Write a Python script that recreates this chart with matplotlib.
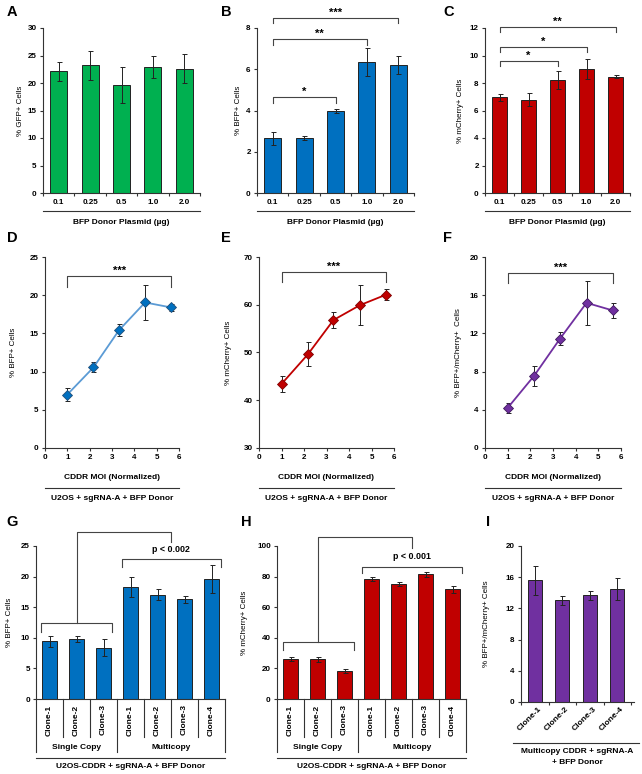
import numpy as np
import matplotlib
matplotlib.use('Agg')
import matplotlib.pyplot as plt

plt.rcParams['font.family'] = ['Liberation Sans', 'DejaVu Sans']
plt.rcParams['font.weight'] = 'bold'

W, H = 642, 774

# ---- data ----
dose_labels = ['0.1', '0.25', '0.5', '1.0', '2.0']
gfp_mean = [22.1, 23.2, 19.6, 23.0, 22.6]
gfp_err = [1.8, 2.7, 3.3, 2.0, 2.6]
bfp_mean = [2.65, 2.68, 3.97, 6.35, 6.2]
bfp_err = [0.32, 0.1, 0.08, 0.68, 0.45]
mch_mean = [6.95, 6.8, 8.25, 9.0, 8.45]
mch_err = [0.27, 0.5, 0.65, 0.72, 0.12]

moi = [1.0, 2.17, 3.31, 4.48, 5.64]
moi_bfp = [7.0, 10.55, 15.4, 19.05, 18.4]
moi_bfp_err = [0.8, 0.65, 0.8, 2.35, 0.43]
moi_mch = [43.4, 49.6, 56.8, 59.9, 62.1]
moi_mch_err = [1.75, 2.5, 1.75, 4.2, 1.2]
moi_dbl = [4.2, 7.57, 11.45, 15.2, 14.4]
moi_dbl_err = [0.52, 1.05, 0.65, 2.3, 0.75]

clone_labels = ['Clone-1', 'Clone-2', 'Clone-3', 'Clone-1', 'Clone-2', 'Clone-3', 'Clone-4']
group_labels = ['Single Copy', 'Multicopy']
clone_bfp = [9.4, 9.84, 8.37, 18.3, 17.07, 16.3, 19.6]
clone_bfp_err = [0.9, 0.45, 1.4, 1.6, 0.95, 0.6, 2.3]
clone_mch = [26.1, 26.0, 18.3, 78.2, 75.2, 81.5, 71.7]
clone_mch_err = [1.1, 1.7, 1.6, 1.4, 1.1, 1.6, 2.2]
mc_labels = ['Clone-1', 'Clone-2', 'Clone-3', 'Clone-4']
mc_dbl = [15.6, 13.03, 13.68, 14.5]
mc_dbl_err = [1.88, 0.6, 0.55, 1.45]

# significance brackets: (x0, x1, y_top, y_tick, label)
sig_b = [(0, 2, 4.65, 4.36, '*'), (0, 3, 7.47, 7.17, '**'), (0, 4, 8.47, 8.23, '***')]
sig_c = [(0, 2, 9.6, 9.24, '*'), (0, 3, 10.6, 10.25, '*'), (0, 4, 12.07, 11.7, '**')]

GREEN = '#00B050'
BLUE = '#0070C0'
RED = '#C00000'
PURPLE = '#7030A0'
EDGE = '#222222'
BRK = '#444444'

TICK_FS = 5.8
LAB_FS = 6.0

fig = plt.figure(figsize=(W / 100, H / 100), dpi=100)


def px_axes(left, top, right, bottom):
    return fig.add_axes([left / W, 1 - bottom / H, (right - left) / W, (bottom - top) / H])


def style(ax):
    for s in ['top', 'right']:
        ax.spines[s].set_visible(False)
    for s in ['left', 'bottom']:
        ax.spines[s].set_linewidth(0.8)
        ax.spines[s].set_color('#333333')
    ax.tick_params(labelsize=TICK_FS, width=0.8, length=2.5, direction='out', color='#333333', pad=2)


def ylab(ax, text, xc, rect):
    left, top, right, bottom = rect
    ax.set_ylabel(text, fontsize=5.8, fontweight='normal')
    ax.yaxis.set_label_coords((xc + 3.5 - left) / (right - left), 0.5)


def hline(ax, y, x0=0, x1=1):
    ax.plot([x0, x1], [y, y], transform=ax.transAxes, clip_on=False, color='#333333', lw=0.8)


def bracket(ax, x0, x1, ytop, ytick, label=None, fs=8):
    ax.plot([x0, x0, x1, x1], [ytick, ytop, ytop, ytick], color=BRK, lw=0.8, clip_on=False)
    if label:
        ax.text((x0 + x1) / 2, ytop, label, ha='center', va='bottom', fontsize=fs, clip_on=False)


def bar_panel(rect, means, errs, color, ymax, ystep, ylabel, ylx, sig=None):
    ax = px_axes(*rect)
    style(ax)
    x = np.arange(len(means))
    ax.bar(x, means, width=0.54, color=color, edgecolor=EDGE, linewidth=0.7, zorder=2)
    ax.errorbar(x, means, yerr=errs, fmt='none', ecolor=EDGE, elinewidth=0.7,
                capsize=1.8, capthick=0.7, zorder=3)
    ax.set_xlim(-0.5, len(means) - 0.5)
    ax.set_ylim(0, ymax)
    ax.set_yticks(np.arange(0, ymax + 0.01, ystep))
    ax.set_xticks(x, dose_labels)
    ax.set_xticks(np.arange(-0.5, len(means)), minor=True)
    ax.tick_params(axis='x', which='major', length=0, pad=4)
    ax.tick_params(axis='x', which='minor', length=2.5, width=0.8, color='#333333')
    ylab(ax, ylabel, ylx, rect)
    hline(ax, -0.109)
    ax.text(0.5, -0.176, 'BFP Donor Plasmid (\u00b5g)', transform=ax.transAxes,
            ha='center', va='center', fontsize=LAB_FS)
    if sig:
        for x0, x1, yt, yk, lab in sig:
            bracket(ax, x0, x1, yt, yk, lab)
    return ax


def line_panel(rect, ys, errs, lcolor, mcolor, medge, ylo, yhi, ystep, ylabel, ylx, sig):
    ax = px_axes(*rect)
    style(ax)
    ax.errorbar(moi, ys, yerr=errs, fmt='none', ecolor=EDGE, elinewidth=0.7,
                capsize=1.8, capthick=0.7, zorder=2)
    ax.plot(moi, ys, color=lcolor, lw=1.3, marker='D', markersize=4.8,
            markerfacecolor=mcolor, markeredgecolor=medge, markeredgewidth=0.6, zorder=3)
    ax.set_xlim(0, 6)
    ax.set_ylim(ylo, yhi)
    ax.set_xticks(range(0, 7))
    ax.set_yticks(np.arange(ylo, yhi + 0.01, ystep))
    ylab(ax, ylabel, ylx, rect)
    ax.text(0.5, -0.157, 'CDDR MOI (Normalized)', transform=ax.transAxes,
            ha='center', va='center', fontsize=LAB_FS)
    hline(ax, -0.209)
    ax.text(0.5, -0.262, 'U2OS + sgRNA-A + BFP Donor', transform=ax.transAxes,
            ha='center', va='center', fontsize=LAB_FS)
    x0, x1, yt, yk, lab = sig
    bracket(ax, x0, x1, yt, yk, lab)
    return ax


def clone_panel(rect, means, errs, color, ymax, ystep, ylabel, ylx, br, ptext):
    ax = px_axes(*rect)
    style(ax)
    x = np.arange(len(means))
    ax.bar(x, means, width=0.52, color=color, edgecolor=EDGE, linewidth=0.7, zorder=2)
    ax.errorbar(x, means, yerr=errs, fmt='none', ecolor=EDGE, elinewidth=0.7,
                capsize=1.8, capthick=0.7, zorder=3)
    ax.set_xlim(-0.5, len(means) - 0.5)
    ax.set_ylim(0, ymax)
    ax.set_yticks(np.arange(0, ymax + 0.01, ystep))
    ax.set_xticks([])
    ylab(ax, ylabel, ylx, rect)
    tr = ax.get_xaxis_transform()
    # multi-level category box
    for b in np.arange(-0.5, len(means)):
        outer = b in (-0.5, 2.5, len(means) - 0.5)
        ax.plot([b, b], [0, -0.346 if outer else -0.248], transform=tr,
                clip_on=False, color='#333333', lw=0.8)
    for i, lab in enumerate(clone_labels):
        ax.text(i, -0.137, lab, transform=tr, rotation=90, ha='center', va='center', fontsize=LAB_FS)
    ax.text(1, -0.314, group_labels[0], transform=tr, ha='center', va='center', fontsize=LAB_FS)
    ax.text(4.5, -0.314, group_labels[1], transform=tr, ha='center', va='center', fontsize=LAB_FS)
    hline(ax, -0.386)
    ax.text(0.5, -0.444, 'U2OS-CDDR + sgRNA-A + BFP Donor', transform=ax.transAxes,
            ha='center', va='center', fontsize=LAB_FS)
    (s0, s1, sy, sk), (cx0, ctop, cx1, cend), (m0, m1, my, mk), py = br
    bracket(ax, s0, s1, sy, sk)
    ax.plot([cx0, cx0, cx1, cx1], [sy, ctop, ctop, cend], color=BRK, lw=0.8, clip_on=False)
    bracket(ax, m0, m1, my, mk)
    ax.text(4.5, py, ptext, ha='center', va='center', fontsize=6.4, clip_on=False)
    return ax


# ---- row 1 ----
rA = (43, 28, 200, 193)
rB = (257, 28, 414, 193)
rC = (485, 28, 630, 193)
bar_panel(rA, gfp_mean, gfp_err, GREEN, 30, 5, '% GFP+ Cells', 21)
bar_panel(rB, bfp_mean, bfp_err, BLUE, 8, 2, '% BFP+ Cells', 239, sig_b)
bar_panel(rC, mch_mean, mch_err, RED, 12, 2, '% mCherry+ Cells', 460, sig_c)

# ---- row 2 ----
rD = (45, 257, 179, 448)
rE = (259, 257, 394, 448)
rF = (485, 257, 621, 448)
line_panel(rD, moi_bfp, moi_bfp_err, '#5B9BD5', BLUE, '#1F4E79', 0, 25, 5,
           '% BFP+ Cells', 14, (1.0, 5.64, 22.5, 21.1, '***'))
line_panel(rE, moi_mch, moi_mch_err, RED, RED, '#7F0000', 30, 70, 10,
           '% mCherry+ Cells', 228, (1.0, 5.64, 66.9, 64.8, '***'))
line_panel(rF, moi_dbl, moi_dbl_err, PURPLE, PURPLE, '#3F1A5C', 0, 20, 4,
           '% BFP+/mCherry+  Cells', 459, (1.0, 5.64, 18.3, 17.3, '***'))

# ---- row 3 ----
rG = (36, 546, 225, 699)
rH = (277, 546, 466, 699)
clone_panel(rG, clone_bfp, clone_bfp_err, BLUE, 25, 5, '% BFP+ Cells', 10,
            ((-0.33, 2.3, 12.4, 10.9), (1, 27.3, 4.5, 25.6), (2.7, 6.37, 22.9, 21.6), 24.4),
            'p < 0.002')
clone_panel(rH, clone_mch, clone_mch_err, RED, 100, 20, '% mCherry+ Cells', 245,
            ((-0.28, 2.35, 37.5, 32.0), (1, 106, 4.5, 99), (2.66, 6.34, 86.5, 82.1), 93.3),
            'p < 0.001')

rI = (521, 546, 634, 702)
axI = px_axes(*rI)
style(axI)
xi = np.arange(len(mc_dbl))
axI.bar(xi, mc_dbl, width=0.51, color=PURPLE, edgecolor=EDGE, linewidth=0.7, zorder=2)
axI.errorbar(xi, mc_dbl, yerr=mc_dbl_err, fmt='none', ecolor=EDGE, elinewidth=0.7,
             capsize=1.8, capthick=0.7, zorder=3)
axI.set_xlim(-0.5, 3.6)
axI.set_ylim(0, 20)
axI.set_yticks(np.arange(0, 21, 4))
axI.set_xticks(np.arange(-0.5, 4))
axI.set_xticklabels([])
ylab(axI, '% BFP+/mCherry+ Cells', 486, rI)
trI = axI.get_xaxis_transform()
for i, lab in enumerate(mc_labels):
    axI.text(i + 0.2, -0.04, lab, transform=trI, rotation=45, ha='right', va='center',
             rotation_mode='anchor', fontsize=LAB_FS)
hline(axI, -0.263, -0.07, 1.04)
axI.text(0.5, -0.32, 'Multicopy CDDR + sgRNA-A', transform=axI.transAxes,
         ha='center', va='center', fontsize=LAB_FS)
axI.text(0.5, -0.385, '+ BFP Donor', transform=axI.transAxes,
         ha='center', va='center', fontsize=LAB_FS)

# ---- panel letters ----
for lab, x, y in [('A', 7, 12), ('B', 221, 12), ('C', 443, 12),
                  ('D', 7, 238), ('E', 221, 238), ('F', 443, 238),
                  ('G', 6, 522), ('H', 241, 522), ('I', 486, 522)]:
    fig.text(x / W, 1 - y / H, lab, fontsize=10.5, fontweight='bold', ha='left', va='center')

fig.savefig('out.png', dpi=100)
